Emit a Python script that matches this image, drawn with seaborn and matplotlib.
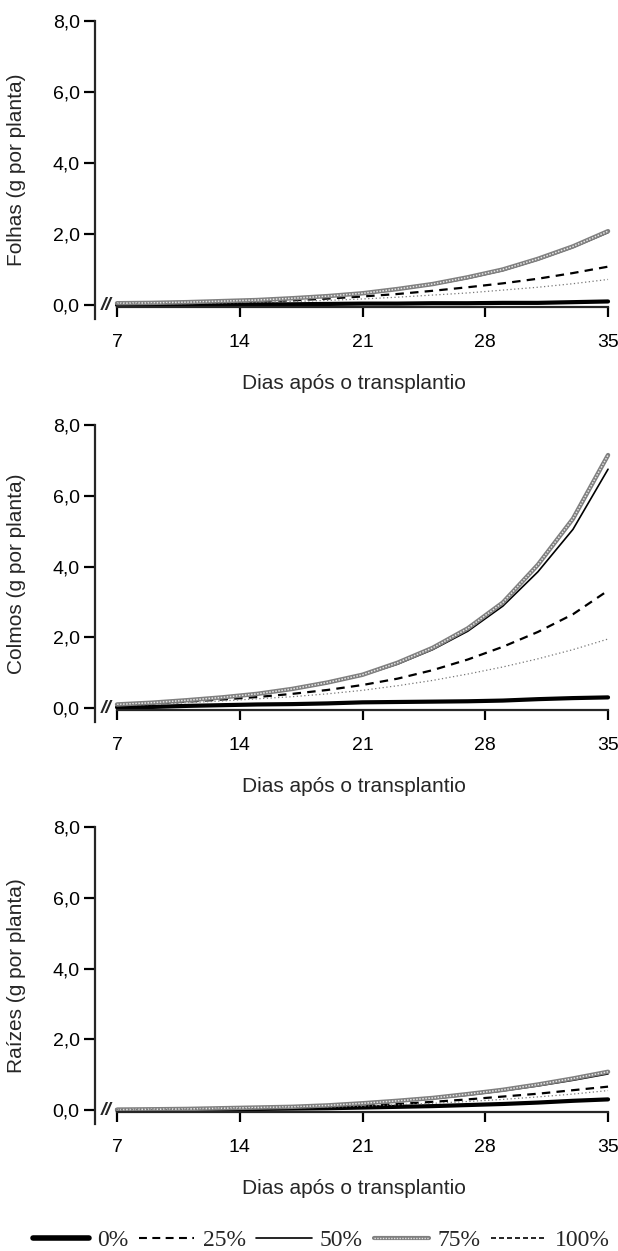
import matplotlib
matplotlib.use("Agg")
import matplotlib.pyplot as plt
from matplotlib.lines import Line2D
from matplotlib.legend_handler import HandlerTuple
import seaborn as sns

sns.set_style("ticks")
plt.rcParams['font.family'] = ['Liberation Sans', 'DejaVu Sans']

days = [7, 9, 11, 13, 15, 17, 19, 21, 23, 25, 27, 29, 31, 33, 35]
levels = ["0%", "25%", "50%", "75%", "100%"]

folhas = {
    "0%":   [0.00, 0.00, 0.01, 0.01, 0.02, 0.02, 0.03, 0.04, 0.04, 0.05, 0.05, 0.06, 0.06, 0.08, 0.10],
    "25%":  [0.03, 0.04, 0.05, 0.07, 0.10, 0.13, 0.18, 0.24, 0.31, 0.40, 0.50, 0.61, 0.74, 0.90, 1.08],
    "50%":  [0.05, 0.06, 0.08, 0.10, 0.13, 0.18, 0.24, 0.32, 0.43, 0.57, 0.75, 0.97, 1.27, 1.62, 2.04],
    "75%":  [0.05, 0.06, 0.08, 0.11, 0.14, 0.19, 0.25, 0.33, 0.45, 0.59, 0.78, 1.00, 1.30, 1.65, 2.08],
    "100%": [0.03, 0.03, 0.04, 0.06, 0.08, 0.10, 0.13, 0.17, 0.22, 0.28, 0.34, 0.42, 0.50, 0.60, 0.72],
}
colmos = {
    "0%":   [0.02, 0.03, 0.06, 0.08, 0.10, 0.11, 0.13, 0.16, 0.17, 0.18, 0.19, 0.21, 0.25, 0.28, 0.30],
    "25%":  [0.08, 0.12, 0.18, 0.24, 0.31, 0.40, 0.51, 0.65, 0.83, 1.07, 1.37, 1.73, 2.15, 2.65, 3.32],
    "50%":  [0.10, 0.14, 0.21, 0.29, 0.39, 0.52, 0.70, 0.92, 1.24, 1.65, 2.17, 2.88, 3.85, 5.05, 6.75],
    "75%":  [0.10, 0.15, 0.22, 0.30, 0.40, 0.54, 0.72, 0.94, 1.28, 1.70, 2.25, 2.98, 4.05, 5.35, 7.15],
    "100%": [0.07, 0.10, 0.15, 0.20, 0.26, 0.32, 0.40, 0.50, 0.63, 0.78, 0.96, 1.16, 1.39, 1.65, 1.95],
}
raizes = {
    "0%":   [0.00, 0.00, 0.01, 0.02, 0.03, 0.04, 0.05, 0.07, 0.09, 0.11, 0.14, 0.17, 0.21, 0.26, 0.30],
    "25%":  [0.01, 0.01, 0.02, 0.03, 0.05, 0.07, 0.10, 0.13, 0.17, 0.23, 0.30, 0.38, 0.46, 0.56, 0.66],
    "50%":  [0.01, 0.02, 0.03, 0.04, 0.06, 0.09, 0.12, 0.18, 0.24, 0.32, 0.42, 0.54, 0.68, 0.84, 1.02],
    "75%":  [0.01, 0.02, 0.03, 0.05, 0.07, 0.09, 0.13, 0.19, 0.26, 0.34, 0.45, 0.57, 0.72, 0.89, 1.08],
    "100%": [0.01, 0.01, 0.02, 0.03, 0.04, 0.06, 0.08, 0.11, 0.15, 0.19, 0.24, 0.30, 0.37, 0.45, 0.55],
}
panels = [("Folhas (g por planta)", folhas),
          ("Colmos (g por planta)", colmos),
          ("Raízes (g por planta)", raizes)]

xticks = [7, 14, 21, 28, 35]
yticks = [0, 2, 4, 6, 8]
ytick_labels = ["0,0", "2,0", "4,0", "6,0", "8,0"]
xlabel = "Dias após o transplantio"

W, H = 618, 1251
fig = plt.figure(figsize=(W / 100, H / 100), dpi=100)

left_px, right_px = 95, 613.3
tops_px = [21, 425, 827]
zero_px = [305, 708, 1110]
ymin = -0.4

styles = {
    "0%":   dict(color="black", lw=3.0, ls="-"),
    "25%":  dict(color="black", lw=1.6, ls=(0, (3.8, 2.8))),
    "50%":  dict(color="black", lw=1.2, ls="-"),
    "75%":  dict(color="#808080", lw=3.2, ls="-"),
    "100%": dict(color="#777777", lw=0.9, ls=(0, (1, 2))),
}

for (ylab, data), top, zp in zip(panels, tops_px, zero_px):
    ppu = (zp - top) / 8.0
    bottom_px = zp + (-ymin) * ppu
    ax = fig.add_axes([left_px / W, 1 - bottom_px / H,
                       (right_px - left_px) / W, (bottom_px - top) / H])
    for lev in levels:
        st = styles[lev]
        sns.lineplot(x=days, y=data[lev], ax=ax, color=st["color"],
                     linewidth=st["lw"], linestyle=st["ls"], legend=False)
        if lev == "75%":
            sns.lineplot(x=days, y=data[lev], ax=ax, color="#e6e6e6",
                         linewidth=1.1, linestyle=(0, (1, 1)), legend=False)
    ax.set_xlim(5.745, 35.3)
    ax.set_ylim(ymin, 8.0)
    ax.spines["top"].set_visible(False)
    ax.spines["right"].set_visible(False)
    ax.spines["left"].set_linewidth(1.6)
    ax.spines["bottom"].set_linewidth(1.6)
    ax.spines["bottom"].set_position(("data", -0.06))
    ax.spines["bottom"].set_bounds(7, 35)
    ax.set_xticks(xticks)
    ax.set_xticklabels([str(t) for t in xticks])
    ax.set_yticks(yticks)
    ax.set_yticklabels(ytick_labels)
    ax.tick_params(axis="y", direction="out", length=8, width=1.6,
                   pad=3, labelsize=14, colors="black")
    ax.tick_params(axis="x", direction="out", length=7.5, width=1.6,
                   pad=12, labelsize=14, colors="black")
    ax.set_ylabel(ylab, fontsize=15)
    ax.yaxis.set_label_coords(-0.133, 0.5)
    ax.set_xlabel(xlabel, fontsize=15)
    label_top = zp + 69
    ax.xaxis.set_label_coords(0.5, -(label_top - bottom_px) / (bottom_px - top))
    ax.text(6.4, -0.02, "//", ha="center", va="center", fontsize=14,
            fontweight="bold", style="italic")
    ax.grid(False)

# legend
h0 = Line2D([], [], color="black", lw=4)
h25 = Line2D([], [], color="black", lw=1.5, ls=(0, (3.8, 2.6)))
h50 = Line2D([], [], color="black", lw=1.2)
h75a = Line2D([], [], color="#808080", lw=3.0)
h75b = Line2D([], [], color="#e0e0e0", lw=1.0, ls=(0, (1, 1)))
h100 = Line2D([], [], color="black", lw=1.2, ls=(0, (3, 1.8)))
fig.legend([h0, h25, h50, (h75a, h75b), h100], levels,
           handler_map={tuple: HandlerTuple(ndivide=1, pad=0)},
           loc="center", bbox_to_anchor=(0.52, 1 - 1240 / H), ncol=5,
           frameon=False, handlelength=2.35, handletextpad=0.35,
           columnspacing=0.45,
           prop={"family": "Liberation Serif", "size": 17})

fig.savefig("out.png", dpi=100)
